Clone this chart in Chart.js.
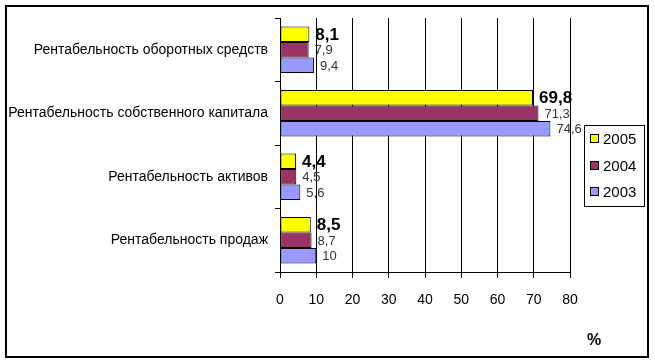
<!DOCTYPE html>
<html>
<head>
<meta charset="utf-8">
<script src="https://cdn.jsdelivr.net/npm/chart.js@4"></script>
<style>
  html, body { margin: 0; padding: 0; background: #fff; }
  #wrap { width: 655px; height: 364px; }
</style>
</head>
<body>
<div id="wrap"><canvas id="chart" width="655" height="364"></canvas></div>
<script>
const categories = [
  "Рентабельность оборотных средств",
  "Рентабельность собственного капитала",
  "Рентабельность активов",
  "Рентабельность продаж",
];
const years = ["2005", "2004", "2003"];
const values2005 = [8.1, 69.8, 4.4, 8.5];
const values2004 = [7.9, 71.3, 4.5, 8.7];
const values2003 = [9.4, 74.6, 5.6, 10];
const xTicks = [0, 10, 20, 30, 40, 50, 60, 70, 80];
const unitLabel = "%";

const colors = ["#ffff00", "#993366", "#9999ff"];
const FONT = "'Liberation Sans', Arial, sans-serif";

// value labels next to the bar ends, decimal comma like the original
const valueLabels = {
  id: "valueLabels",
  afterDatasetsDraw(chart) {
    const ctx = chart.ctx;
    ctx.save();
    ctx.textBaseline = "middle";
    ctx.textAlign = "left";
    chart.data.datasets.forEach((ds, i) => {
      const meta = chart.getDatasetMeta(i);
      meta.data.forEach((bar, j) => {
        const txt = String(ds.data[j]).replace(".", ",");
        if (i === 0) {
          ctx.font = "bold 17px " + FONT;
          ctx.fillStyle = "#000";
        } else {
          ctx.font = "13px " + FONT;
          ctx.fillStyle = "#333";
        }
        ctx.fillText(txt, bar.x + 6, bar.y + 1);
      });
    });
    ctx.restore();
  },
};

// legend box, unit sign and outer frame
const frame = {
  id: "frame",
  afterDraw(chart) {
    const ctx = chart.ctx;
    ctx.save();
    ctx.strokeStyle = "#000";
    ctx.lineWidth = 2;
    ctx.strokeRect(6, 6, 642, 351);

    ctx.lineWidth = 1;
    ctx.strokeRect(584.5, 125.5, 60, 81);
    ctx.font = "15px " + FONT;
    ctx.textBaseline = "middle";
    ctx.textAlign = "left";
    chart.data.datasets.forEach((ds, i) => {
      const y = Math.round(139 + i * 26.5);
      ctx.fillStyle = ds.backgroundColor;
      ctx.fillRect(590.5, y - 4.5, 8, 8);
      ctx.strokeRect(590.5, y - 4.5, 8, 8);
      ctx.fillStyle = "#000";
      ctx.fillText(ds.label, 603, y + 1);
    });

    ctx.font = "bold 16px " + FONT;
    ctx.textAlign = "center";
    ctx.fillText(unitLabel, 594, 341);
    ctx.restore();
  },
};

new Chart(document.getElementById("chart"), {
  type: "bar",
  data: {
    labels: categories,
    datasets: [values2005, values2004, values2003].map((d, i) => ({
      label: years[i],
      data: d,
      backgroundColor: colors[i],
      borderColor: "#000",
      borderWidth: 1,
      borderSkipped: false,
      categoryPercentage: 0.73,
      barPercentage: 1,
    })),
  },
  options: {
    indexAxis: "y",
    responsive: false,
    animation: false,
    layout: { padding: { left: 0, top: 18, right: 85, bottom: 0 } },
    plugins: {
      legend: { display: false },
      tooltip: { enabled: false },
    },
    scales: {
      x: {
        min: 0,
        max: 80,
        afterBuildTicks: (s) => { s.ticks = xTicks.map((v) => ({ value: v })); },
        afterFit: (s) => { s.height = 92; },
        border: { color: "#000", width: 1 },
        grid: { color: "#000", lineWidth: 1, tickLength: 6, drawTicks: true },
        ticks: { color: "#000", font: { family: FONT, size: 14 }, padding: 14 },
      },
      y: {
        afterFit: (s) => { s.width = 280; },
        border: { color: "#000", width: 1 },
        grid: { color: "#000", drawOnChartArea: false, tickLength: 5, offset: true },
        ticks: { color: "#000", font: { family: FONT, size: 14 }, padding: 7 },
      },
    },
  },
  plugins: [valueLabels, frame],
});
</script>
</body>
</html>
